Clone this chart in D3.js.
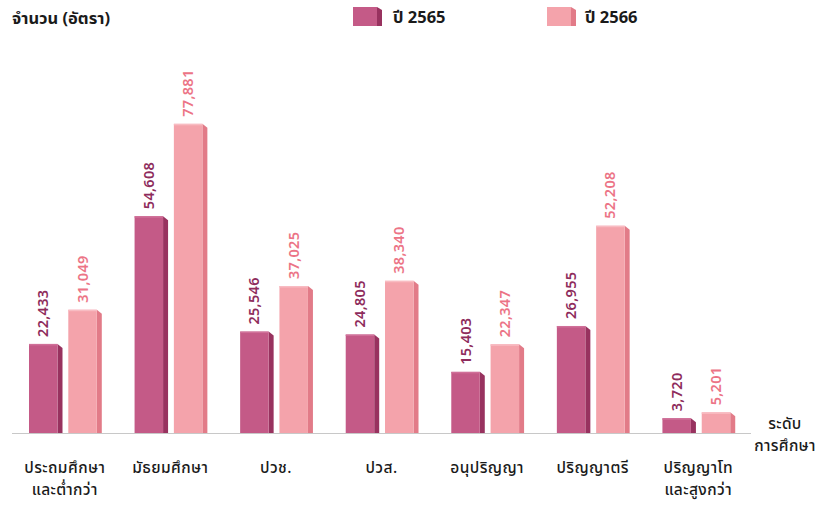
<!DOCTYPE html>
<html><head><meta charset="utf-8">
<script src="https://cdn.jsdelivr.net/npm/d3@7"></script>
<style>
html,body{margin:0;padding:0;background:#fff;}
svg{display:block;font-family:"Noto Sans Thai","Noto Sans Thai UI","Noto Sans",Lato,sans-serif;}
</style></head>
<body><svg id="c" width="822" height="505"></svg>
<script>
const categories = [["ประถมศึกษา","และต่ำกว่า"],["มัธยมศึกษา"],["ปวช."],["ปวส."],["อนุปริญญา"],["ปริญญาตรี"],["ปริญญาโท","และสูงกว่า"]];
const series2565 = [22433, 54608, 25546, 24805, 15403, 26955, 3720];
const series2566 = [31049, 77881, 37025, 38340, 22347, 52208, 5201];
const seriesNames = ["ปี 2565", "ปี 2566"];
const yAxisTitle = "จำนวน (อัตรา)";
const xAxisTitle = ["ระดับ", "การศึกษา"];

const styles = [
  {front:"#c45a87", side:"#98325f", top:"#d07099", label:"#8e2c5c"},
  {front:"#f4a3ab", side:"#e27b88", top:"#f8bcc2", label:"#ec7486"}
];
const svg = d3.select("#c");
const base = 433;
const x = d3.scaleBand().domain(d3.range(categories.length)).range([12, 751]).paddingInner(0).paddingOuter(0);
const y = d3.scaleLinear().domain([0, 80000]).range([base, base - 317.6]);
const bw = 28.5, sd = 5, offs = [17, 56.3];

svg.append("line").attr("x1", 12).attr("x2", 751).attr("y1", base + 0.5).attr("y2", base + 0.5)
  .attr("stroke", "#c8c8c8").attr("stroke-width", 1.2);

const all = [series2565, series2566];
all.forEach((vals, si) => {
  const st = styles[si];
  const g = svg.append("g");
  vals.forEach((v, i) => {
    const x0 = x(i) + offs[si];
    const yt = y(v);
    g.append("path").attr("d", `M${x0+bw},${yt} L${x0+bw+sd},${yt+4} L${x0+bw+sd},${base} L${x0+bw},${base} Z`).attr("fill", st.side);
    g.append("rect").attr("x", x0).attr("y", yt).attr("width", bw).attr("height", base - yt).attr("fill", st.front);
    g.append("rect").attr("x", x0).attr("y", yt).attr("width", bw).attr("height", 1.5).attr("fill", st.top);
    const lx = x0 + bw / 2 + 1, ly = yt - 7;
    g.append("text").attr("transform", `translate(${lx},${ly}) rotate(-90)`)
      .attr("dominant-baseline", "central").attr("text-anchor", "start")
      .attr("font-size", 14.5).attr("font-weight", 600).attr("fill", st.label)
      .attr("letter-spacing", 0.3)
      .text(d3.format(",")(v));
  });
});

categories.forEach((lines, i) => {
  const cx = x(i) + x.bandwidth() / 2;
  lines.forEach((t, k) => {
    svg.append("text").attr("x", cx).attr("y", 468 + k * 22.5).attr("text-anchor", "middle")
      .attr("dominant-baseline", "central").attr("font-size", 15.5).attr("font-weight", 500)
      .attr("letter-spacing", 0.4).attr("fill", "#1a1a1a").text(t);
  });
});

svg.append("text").attr("x", 12).attr("y", 18).attr("dominant-baseline", "central")
  .attr("font-size", 16.5).attr("font-weight", 700).attr("fill", "#1a1a1a").text(yAxisTitle);
xAxisTitle.forEach((t, k) => {
  svg.append("text").attr("x", 785).attr("y", 424 + k * 22).attr("text-anchor", "middle")
    .attr("dominant-baseline", "central").attr("font-size", 15.5).attr("font-weight", 500)
    .attr("letter-spacing", 0.3).attr("fill", "#1a1a1a").text(t);
});

const legX = [353, 547], legT = [393, 585];
seriesNames.forEach((n, si) => {
  const st = styles[si];
  const lx = legX[si];
  svg.append("path").attr("d", `M${lx+24},7 L${lx+29},10 L${lx+29},26 L${lx+24},26 Z`).attr("fill", st.side);
  svg.append("rect").attr("x", lx).attr("y", 7).attr("width", 24).attr("height", 19).attr("fill", st.front);
  svg.append("text").attr("x", legT[si]).attr("y", 17).attr("dominant-baseline", "central")
    .attr("font-size", 16.5).attr("font-weight", 700).attr("fill", "#1a1a1a").text(n);
});
</script></body></html>
